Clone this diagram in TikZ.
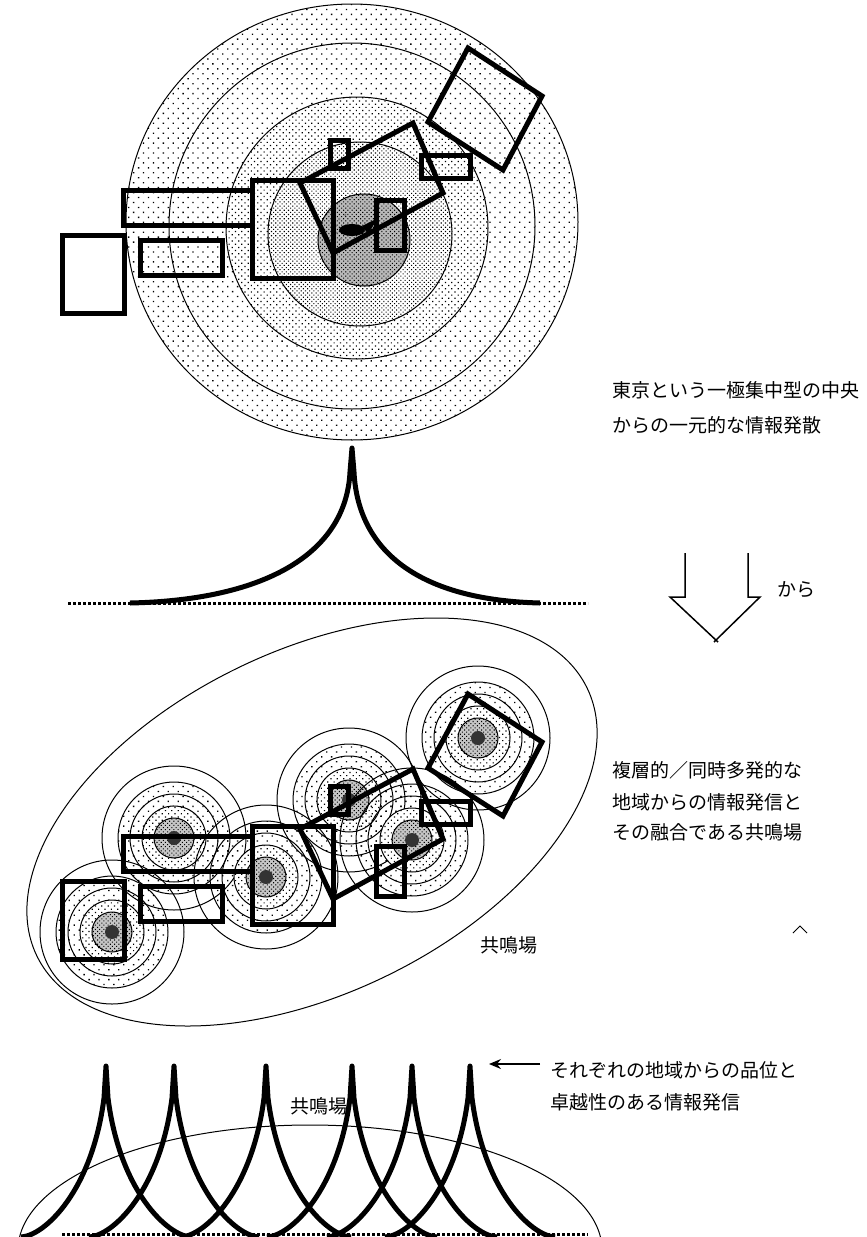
\documentclass[tikz,border=0pt]{standalone}
\usepackage{fontspec}
\newfontfamily\jpfont{Noto Sans CJK JP}
\usetikzlibrary{patterns.meta,arrows.meta,calc}
\tikzset{
  thickbox/.style={line width=5pt, line join=miter},
  thinline/.style={line width=1pt},
  cuspline/.style={line width=5pt, line join=round},
  basedots/.style={line width=3pt, dash pattern=on 3pt off 2pt},
  jp/.style={font=\jpfont\fontsize{19}{19}\selectfont, inner sep=0pt, anchor=west},
  sparse/.style={pattern={Dots[distance=7pt, angle=45, radius=0.95pt]}},
  medium/.style={pattern={Dots[distance=4.5pt, angle=45, radius=0.85pt]}},
  dense/.style={pattern={Dots[distance=3pt, angle=45, radius=0.75pt]}},
}
\begin{document}
\begin{tikzpicture}[x=1pt,y=-1pt]
\useasboundingbox[fill=white] (0,0) rectangle (867,1237);

% ---------- TOP: concentric rings ----------
\filldraw[thinline, sparse] (352,222) ellipse [x radius=226, y radius=218];
\fill[white] (352,226) circle (183);
\filldraw[thinline, sparse] (352,226) circle (183);
\fill[white] (357,228) circle (131);
\filldraw[thinline, medium] (357,228) circle (131);
\fill[white] (360,234) circle (92);
\filldraw[thinline, dense] (360,234) circle (92);
\fill[gray!55] (364,240) circle (46);
\filldraw[thinline, dense] (364,240) circle (46);
\fill[black] (352,230) ellipse [x radius=13, y radius=6];
\fill[black] (362,226) -- (378,218) -- (368,234) -- cycle;
\foreach \a in {100,130,...,250} \fill[gray] ($(350,228)+(\a:14)$) circle (1.3);

% top rectangles
\filldraw[thickbox, fill=white] (62,235) rectangle (124,313);
\draw[thickbox] (123,190) rectangle (252,225);
\draw[thickbox] (140,240) rectangle (222,275);
\draw[thickbox] (252,180) rectangle (333,278);
\draw[thickbox] (300,183) -- (413,123) -- (443,193) -- (333,253) -- cycle;
\draw[thickbox] (330,140) rectangle (348,168);
\draw[thickbox] (421,155) rectangle (470,178);
\draw[thickbox] (376,200) rectangle (404,250);
\draw[thickbox] (468,48) -- (542,96) -- (503,170) -- (428,122) -- cycle;

\node[jp] (t1) at (612,390) {東京という一極集中型の中央};
\node[jp] (t2) at (612,425) {からの一元的な情報発散};

% top cusp
\draw[basedots] (68,603) -- (588,603);
\draw[cuspline] (130,603) .. controls (268,600) and (346,552) .. (350,472) -- (352,448) -- (354,472) .. controls (358,552) and (420,600) .. (540,603);

% block arrow
\draw[line width=1.5pt] (685,553) -- (685,597) -- (670,597) -- (718,642);
\draw[line width=1.5pt] (748,553) -- (748,597) -- (760,597) -- (714,642);
\node[jp] (t3) at (777,590) {から};

% ---------- MIDDLE ----------
\draw[thinline] (312,822) ellipse [x radius=306, y radius=171, rotate=26];
\foreach \cx/\cy in {112/932, 174/838, 266/877, 349/800, 412/840, 478/738} {
  \draw[thinline] (\cx,\cy) circle (72);
  \filldraw[thinline, sparse] (\cx,\cy) circle (56);
  \draw[thinline] (\cx,\cy) circle (44);
  \fill[white] (\cx,\cy) circle (32);
  \filldraw[thinline, medium] (\cx,\cy) circle (32);
  \fill[gray!45] (\cx,\cy) circle (20);
  \filldraw[thinline, dense] (\cx,\cy) circle (20);
  \fill[black!80] (\cx,\cy) circle (7);
}
\begin{scope}[yshift=-646pt]
\draw[thickbox] (62,235) rectangle (124,313);
\draw[thickbox] (123,190) rectangle (252,225);
\draw[thickbox] (140,240) rectangle (222,275);
\draw[thickbox] (252,180) rectangle (333,278);
\draw[thickbox] (300,183) -- (413,123) -- (443,193) -- (333,253) -- cycle;
\draw[thickbox] (330,140) rectangle (348,168);
\draw[thickbox] (421,155) rectangle (470,178);
\draw[thickbox] (376,200) rectangle (404,250);
\draw[thickbox] (468,48) -- (542,96) -- (503,170) -- (428,122) -- cycle;
\end{scope}
\node[jp] (t4) at (480,945) {共鳴場};

\node[jp] (t5) at (612,770) {複層的／同時多発的な};
\node[jp] (t6) at (612,802) {地域からの情報発信と};
\node[jp] (t7) at (612,832) {その融合である共鳴場};
\draw[thinline] (793,933) -- (800,926) -- (807,933);

% ---------- BOTTOM ----------
\draw[thinline] (310,1250) ellipse [x radius=292, y radius=125];
\node[jp] (t8) at (290,1106) {共鳴場};
\draw[basedots] (62,1234) -- (588,1234);
\foreach \x in {106,174,266,352,412,470} {
  \draw[cuspline] (\x-85,1237) .. controls (\x-62,1236) and (\x-14,1192) .. (\x-2,1098) -- (\x,1066) -- (\x+2,1098) .. controls (\x+14,1192) and (\x+62,1236) .. (\x+85,1237);
}
\coordinate (arrS) at (540,1064);
\coordinate (arrE) at (489,1064);
\draw[line width=1.5pt, -{Stealth[length=12pt, width=10pt, inset=4pt]}] (arrS) -- (arrE);
\node[jp] (t9) at (550,1070) {それぞれの地域からの品位と};
\node[jp] (t10) at (550,1102) {卓越性のある情報発信};
\end{tikzpicture}
\end{document}
